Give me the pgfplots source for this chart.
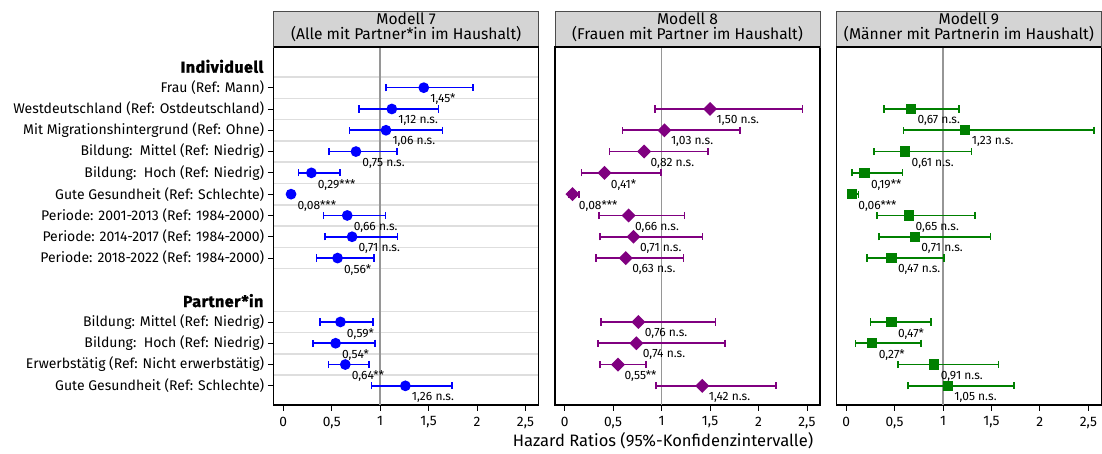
\documentclass[border=0pt]{standalone}
\usepackage{fontspec}
\setmainfont{Fira Sans}
\newfontfamily\heavyfont{Fira Sans}[BoldFeatures={FakeBold=1.3, LetterSpace=3}]
\usepackage{pgfplots}
\usepackage{pgfplotstable}
\pgfplotsset{compat=1.18}

\definecolor{hdr}{RGB}{212,212,212}
\definecolor{gridc}{RGB}{222,222,222}
\definecolor{refc}{RGB}{150,150,150}
\definecolor{cA}{RGB}{0,0,255}
\definecolor{cB}{RGB}{128,0,128}
\definecolor{cC}{RGB}{0,128,0}

\pgfplotstableread[col sep=semicolon]{
r;est;lo;hi;lab
1;1.45;1.06;1.96;1,45*
2;1.12;0.78;1.60;1,12 n.s.
3;1.06;0.685;1.645;1,06 n.s.
4;0.75;0.47;1.175;0,75 n.s.
5;0.29;0.158;0.585;0,29***
6;0.08;0.05;0.11;0,08***
7;0.66;0.415;1.054;0,66 n.s.
8;0.71;0.428;1.178;0,71 n.s.
9;0.56;0.343;0.934;0,56*
12;0.59;0.377;0.928;0,59*
13;0.54;0.308;0.945;0,54*
14;0.64;0.466;0.887;0,64**
15;1.26;0.911;1.742;1,26 n.s.
}\tabA

\pgfplotstableread[col sep=semicolon]{
r;est;lo;hi;lab
2;1.50;0.933;2.455;1,50 n.s.
3;1.03;0.595;1.811;1,03 n.s.
4;0.82;0.461;1.477;0,82 n.s.
5;0.41;0.175;0.995;0,41*
6;0.08;0.04;0.15;0,08***
7;0.66;0.354;1.236;0,66 n.s.
8;0.71;0.365;1.422;0,71 n.s.
9;0.63;0.32;1.225;0,63 n.s.
12;0.76;0.372;1.556;0,76 n.s.
13;0.74;0.341;1.656;0,74 n.s.
14;0.55;0.365;0.84;0,55**
15;1.42;0.943;2.18;1,42 n.s.
}\tabB

\pgfplotstableread[col sep=semicolon]{
r;est;lo;hi;lab
2;0.67;0.392;1.166;0,67 n.s.
3;1.23;0.591;2.559;1,23 n.s.
4;0.61;0.289;1.293;0,61 n.s.
5;0.19;0.062;0.581;0,19**
6;0.06;0.03;0.127;0,06***
7;0.65;0.317;1.328;0,65 n.s.
8;0.71;0.341;1.489;0,71 n.s.
9;0.47;0.214;1.012;0,47 n.s.
12;0.47;0.251;0.877;0,47*
13;0.27;0.096;0.774;0,27*
14;0.91;0.537;1.572;0,91 n.s.
15;1.05;0.637;1.734;1,05 n.s.
}\tabC

\pgfplotsset{
  panel/.style={
    scale only axis, width=198.75pt, height=268.5pt,
    anchor=north west,
    xmin=-0.1, xmax=2.635, ymin=-0.91, ymax=15.9, y dir=reverse,
    xtick={0,0.5,1,1.5,2,2.5},
    /pgf/number format/use comma,
    /pgf/number format/assume math mode=true,
    xticklabel style={font=\fontsize{10.3}{12}\selectfont, yshift=-1pt},
    tick align=outside, tick pos=left,
    major tick length=4.3pt,
    every tick/.style={black, line width=0.6pt},
    axis line style={black, line width=1pt},
    minor ytick={0.5,1.5,...,9.5,11.5,12.5,13.5,14.5},
    minor tick length=0pt,
    yminorgrids=true, ymajorgrids=false, xmajorgrids=false,
    minor grid style={gridc, line width=1.1pt},
    clip=false,
  },
  est/.style={
    line width=1.2pt, only marks,
    error bars/.cd, x dir=both, x explicit,
      error bar style={line width=1.2pt},
      error mark options={rotate=90, mark size=2.7pt, line width=1.2pt},
    /pgfplots/.cd,
    nodes near coords, point meta=explicit symbolic,
    every node near coord/.style={anchor=north west, inner sep=0pt,
      xshift=4.3pt, yshift=-4.2pt, text=black,
      font=\fontsize{9}{10}\selectfont},
  },
}

\newcommand{\refline}{\addplot[refc, line width=1.1pt, mark=none, forget plot] coordinates {(1,-0.91) (1,15.9)};}

\begin{document}
\begin{tikzpicture}
\path[use as bounding box] (0,0) rectangle (826.5pt,-339.75pt);

\begin{axis}[panel, name=a1, at={(205.2pt,-35.25pt)},
  ytick={1,...,9,12,13,14,15},
  yticklabels={Frau (Ref: Mann),
    Westdeutschland (Ref: Ostdeutschland),
    Mit Migrationshintergrund (Ref: Ohne),
    Bildung:\ \ Mittel (Ref: Niedrig),
    Bildung:\ \ Hoch (Ref: Niedrig),
    Gute Gesundheit (Ref: Schlechte),
    Periode: 2001-2013 (Ref: 1984-2000),
    Periode: 2014-2017 (Ref: 1984-2000),
    Periode: 2018-2022 (Ref: 1984-2000),
    Bildung: Mittel (Ref: Niedrig),
    Bildung:\ \ Hoch (Ref: Niedrig),
    Erwerbstätig (Ref: Nicht erwerbstätig),
    Gute Gesundheit (Ref: Schlechte)},
  yticklabel style={font=\fontsize{10.5}{13}\selectfont, inner xsep=2.5pt},
  extra y ticks={0,11},
  extra y tick labels={Individuell, Partner*in},
  extra y tick style={major tick length=0pt, yticklabel style={font=\fontsize{12}{14}\heavyfont\bfseries, inner xsep=2.5pt, xshift=-5pt}},
]
\refline
\addplot+[est, cA, mark=*, mark size=3.4pt, mark options={fill=cA, draw=cA}]
  table[x=est, y=r, meta=lab,
    x error plus expr=\thisrow{hi}-\thisrow{est},
    x error minus expr=\thisrow{est}-\thisrow{lo}] {\tabA};
\end{axis}

\begin{axis}[panel, name=a2, at={(416.25pt,-35.25pt)}, ytick=\empty]
\refline
\addplot+[est, cB, mark=square*, mark size=3.1pt, mark options={fill=cB, draw=cB, rotate=45}]
  table[x=est, y=r, meta=lab,
    x error plus expr=\thisrow{hi}-\thisrow{est},
    x error minus expr=\thisrow{est}-\thisrow{lo}] {\tabB};
\end{axis}

\begin{axis}[panel, name=a3, at={(627.3pt,-35.25pt)}, ytick=\empty]
\refline
\addplot+[est, cC, mark=square*, mark size=3.3pt, mark options={fill=cC, draw=cC}]
  table[x=est, y=r, meta=lab,
    x error plus expr=\thisrow{hi}-\thisrow{est},
    x error minus expr=\thisrow{est}-\thisrow{lo}] {\tabC};
\end{axis}

% panel headers
\foreach \ax/\ta/\tb in {a1/{Modell 7}/{(Alle mit Partner*in im Haushalt)},
                      a2/{Modell 8}/{(Frauen mit Partner im Haushalt)},
                      a3/{Modell 9}/{(Männer mit Partnerin im Haushalt)}}{
  \filldraw[fill=hdr, draw=black!70, line width=0.6pt]
    (\ax.north west) rectangle ([yshift=27pt]\ax.north east);
  \draw[black, line width=1.5pt] (\ax.north west) -- (\ax.north east);
  \node[anchor=base, font=\fontsize{11.7}{13}\selectfont, inner sep=0pt]
    at ([yshift=16.5pt]\ax.north) {\ta};
  \node[anchor=base, font=\fontsize{11.7}{13}\selectfont, inner sep=0pt]
    at ([yshift=5.8pt]\ax.north) {\tb};
}

\node[anchor=base, font=\fontsize{12.4}{14}\selectfont, inner sep=0pt] at (497.25pt,-335pt)
  {Hazard Ratios (95\%-Konfidenzintervalle)};
\end{tikzpicture}
\end{document}
